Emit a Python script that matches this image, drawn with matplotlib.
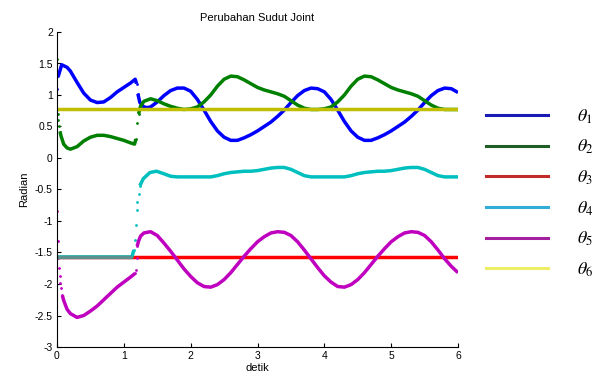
import numpy as np
import matplotlib
matplotlib.use("Agg")
import matplotlib.pyplot as plt
from matplotlib.lines import Line2D

plt.rcParams['font.family'] = ['Liberation Sans', 'DejaVu Sans']
plt.rcParams['axes.unicode_minus'] = False
plt.rcParams['mathtext.fontset'] = 'stix'

# sudut joint (radian)
t1 = [0.0, 0.02, 0.07, 0.15, 0.2, 0.3, 0.4, 0.5, 0.6, 0.7, 0.8, 0.9, 1.0, 1.1, 1.17,
      1.19, 1.21, 1.24, 1.3, 1.35, 1.4, 1.5, 1.6, 1.7, 1.8, 1.9, 2.0, 2.1, 2.2, 2.3,
      2.4, 2.5, 2.6, 2.7, 2.8, 2.9, 3.0, 3.1, 3.2, 3.3, 3.4, 3.5, 3.6, 3.7, 3.8, 3.9,
      4.0, 4.1, 4.2, 4.3, 4.4, 4.5, 4.6, 4.7, 4.8, 4.9, 5.0, 5.1, 5.2, 5.3, 5.4, 5.5,
      5.6, 5.7, 5.8, 5.9, 6.0]
theta1 = [1.09, 1.30, 1.48, 1.44, 1.38, 1.20, 1.03, 0.92, 0.88, 0.89, 0.96, 1.05, 1.12, 1.19, 1.25,
          1.18, 1.02, 0.88, 0.81, 0.80, 0.81, 0.89, 0.99, 1.07, 1.11, 1.11, 1.06, 0.93, 0.76, 0.58,
          0.43, 0.33, 0.28, 0.28, 0.32, 0.37, 0.43, 0.50, 0.57, 0.66, 0.76, 0.88, 0.99, 1.07, 1.11, 1.10,
          1.05, 0.93, 0.76, 0.58, 0.43, 0.33, 0.28, 0.28, 0.32, 0.37, 0.43, 0.50, 0.57, 0.66, 0.76, 0.88,
          0.99, 1.07, 1.11, 1.10, 1.04]

t2 = [0.0, 0.01, 0.02, 0.03, 0.045, 0.06, 0.1, 0.15, 0.2, 0.3, 0.4, 0.5, 0.6, 0.7, 0.8, 0.9, 1.0, 1.1, 1.16,
      1.18, 1.2, 1.22, 1.25, 1.3, 1.4, 1.5, 1.6, 1.7, 1.8, 1.9, 2.0, 2.1, 2.2, 2.3, 2.4, 2.5,
      2.6, 2.7, 2.8, 2.9, 3.0, 3.1, 3.2, 3.3, 3.4, 3.5, 3.6, 3.7, 3.8, 3.9, 4.0, 4.1, 4.2, 4.3,
      4.4, 4.5, 4.6, 4.7, 4.8, 4.9, 5.0, 5.1, 5.2, 5.3, 5.4, 5.5, 5.6, 5.7, 5.8, 5.9, 6.0]
theta2 = [1.57, 0.70, 0.60, 0.50, 0.42, 0.35, 0.22, 0.16, 0.14, 0.18, 0.27, 0.33, 0.36, 0.36, 0.34, 0.31, 0.28,
          0.24, 0.22,
          0.30, 0.55, 0.70, 0.82, 0.90, 0.94, 0.91, 0.86, 0.82, 0.79, 0.77, 0.78, 0.81, 0.89, 1.00, 1.14, 1.25,
          1.30, 1.29, 1.24, 1.18, 1.12, 1.08, 1.05, 1.02, 0.98, 0.91, 0.84, 0.79, 0.77, 0.77, 0.78, 0.81, 0.89, 1.00,
          1.14, 1.25, 1.30, 1.29, 1.24, 1.18, 1.12, 1.08, 1.05, 1.02, 0.98, 0.91, 0.84, 0.79, 0.77, 0.77, 0.77]

t3 = [0.0, 6.0]
theta3 = [-np.pi / 2, -np.pi / 2]

t4 = [0.0, 0.5, 1.0, 1.12, 1.15, 1.17, 1.18, 1.19, 1.2, 1.22, 1.24, 1.29, 1.39, 1.49, 1.6, 1.7,
      1.8, 1.9, 2.0, 2.1, 2.2, 2.3, 2.4, 2.5, 2.6, 2.7, 2.8, 2.9, 3.0, 3.1, 3.2, 3.3, 3.4, 3.5,
      3.6, 3.7, 3.8, 3.9, 4.0, 4.1, 4.2, 4.3, 4.4, 4.5, 4.6, 4.7, 4.8, 4.9, 5.0, 5.1, 5.2, 5.3,
      5.4, 5.5, 5.6, 5.7, 5.8, 5.9, 6.0]
theta4 = [-np.pi / 2, -np.pi / 2, -np.pi / 2, -np.pi / 2, -1.46, -1.30, -1.06, -0.83, -0.70, -0.57, -0.44,
          -0.33, -0.23, -0.21, -0.25, -0.29,
          -0.30, -0.30, -0.30, -0.30, -0.30, -0.30, -0.28, -0.25, -0.23, -0.22, -0.21, -0.21, -0.20, -0.18,
          -0.16, -0.15, -0.15, -0.18, -0.23, -0.28, -0.30, -0.30, -0.30, -0.30, -0.30, -0.30, -0.28, -0.25,
          -0.23, -0.22, -0.21, -0.21, -0.20, -0.18, -0.16, -0.15, -0.15, -0.18, -0.23, -0.28, -0.30, -0.30,
          -0.30]

t5 = [0.0, 0.01, 0.02, 0.03, 0.04, 0.05, 0.06, 0.08, 0.1, 0.15, 0.2, 0.3, 0.4, 0.5, 0.6, 0.7, 0.8, 0.9,
      1.0, 1.1, 1.17,
      1.18, 1.19, 1.2, 1.22, 1.25, 1.3, 1.4, 1.5, 1.6, 1.7, 1.8, 1.9, 2.0, 2.1, 2.2, 2.3, 2.4,
      2.5, 2.6, 2.7, 2.8, 2.9, 3.0, 3.1, 3.2, 3.3, 3.4, 3.5, 3.6, 3.7, 3.8, 3.9, 4.0, 4.1, 4.2,
      4.3, 4.4, 4.5, 4.6, 4.7, 4.8, 4.9, 5.0, 5.1, 5.2, 5.3, 5.4, 5.5, 5.6, 5.7, 5.8, 5.9, 6.0]
theta5 = [-0.84, -1.32, -1.58, -1.75, -1.88, -1.98, -2.06, -2.18, -2.26, -2.40, -2.47, -2.53, -2.50, -2.43,
          -2.35, -2.25, -2.15, -2.05, -1.97, -1.89, -1.83,
          -1.77, -1.58, -1.40, -1.32, -1.24, -1.19, -1.17, -1.23, -1.35, -1.48, -1.62, -1.76, -1.88, -1.98,
          -2.04, -2.05, -2.01, -1.93, -1.82, -1.69, -1.56, -1.44, -1.33, -1.25, -1.19, -1.17, -1.18, -1.23,
          -1.33, -1.46, -1.60, -1.74, -1.87, -1.97, -2.04, -2.05, -2.01, -1.93, -1.82, -1.69, -1.56, -1.44,
          -1.33, -1.25, -1.19, -1.17, -1.18, -1.23, -1.33, -1.46, -1.60, -1.72, -1.82]

t6 = [0.0, 6.0]
theta6 = [np.pi / 4, np.pi / 4]

labels = [r'$\theta_1$', r'$\theta_2$', r'$\theta_3$', r'$\theta_4$', r'$\theta_5$', r'$\theta_6$']
colors = ['#0000ff', '#008000', '#ff0000', '#00bfbf', '#bf00bf', '#bfbf00']
legend_colors = ['#1a1ab4', '#1f5f26', '#c22a2a', '#33acd6', '#a4209e', '#eeee66']


def plot_joint(ax, t, v, color):
    t = np.asarray(t, float)
    v = np.asarray(v, float)
    slope = np.abs(np.diff(v) / np.diff(t))
    steep = slope > 5.0
    # garis untuk bagian halus, titik untuk lompatan
    tt, vv = [t[0]], [v[0]]
    for i in range(len(steep)):
        if steep[i]:
            tt.append(np.nan)
            vv.append(np.nan)
        tt.append(t[i + 1])
        vv.append(v[i + 1])
    ax.plot(tt, vv, color=color, lw=2.5, solid_capstyle='butt')
    dots = np.zeros(len(t), bool)
    dots[:-1] |= steep
    dots[1:] |= steep
    ax.plot(t[dots], v[dots], ls='none', marker='o', ms=2.0, mew=0, color=color)


fig = plt.figure(figsize=(6.07, 3.78), dpi=100)
ax = fig.add_axes([57 / 607, 1 - 347 / 378, (458 - 57) / 607, (347 - 32) / 378])

series = [(t1, theta1), (t2, theta2), (t3, theta3), (t4, theta4), (t5, theta5), (t6, theta6)]
for (t, v), c in zip(series, colors):
    plot_joint(ax, t, v, c)

# theta4 menumpuk dengan theta3 di awal -> warna campuran
t4a = np.asarray(t4)
v4a = np.asarray(theta4)
same = np.isclose(v4a, -np.pi / 2)
ax.plot(t4a[same], v4a[same], color='#5c8f8f', lw=2.5, solid_capstyle='butt')

ax.set_xlim(0, 6)
ax.set_ylim(-3, 2)
ax.set_xticks(range(0, 7))
ax.set_yticks(np.arange(-3, 2.01, 0.5))
ax.set_yticklabels(['-3', '-2.5', '-2', '-1.5', '-1', '-0.5', '0', '0.5', '1', '1.5', '2'])
ax.spines['top'].set_visible(False)
ax.spines['right'].set_visible(False)
ax.tick_params(direction='in', length=3, labelsize=7.5, pad=3)
ax.set_title('Perubahan Sudut Joint', fontsize=8, pad=8)
ax.set_xlabel('detik', fontsize=8, labelpad=1)
ax.set_ylabel('Radian', fontsize=8, labelpad=4)

handles = [Line2D([], [], color=c, lw=2.2) for c in legend_colors]
fig.legend(handles, labels, loc='upper left', bbox_to_anchor=(470 / 607, 1 - 91 / 378),
           frameon=False, fontsize=13, handlelength=3.4, handletextpad=1.6,
           labelspacing=0.68)

fig.savefig('out.png', dpi=100)
